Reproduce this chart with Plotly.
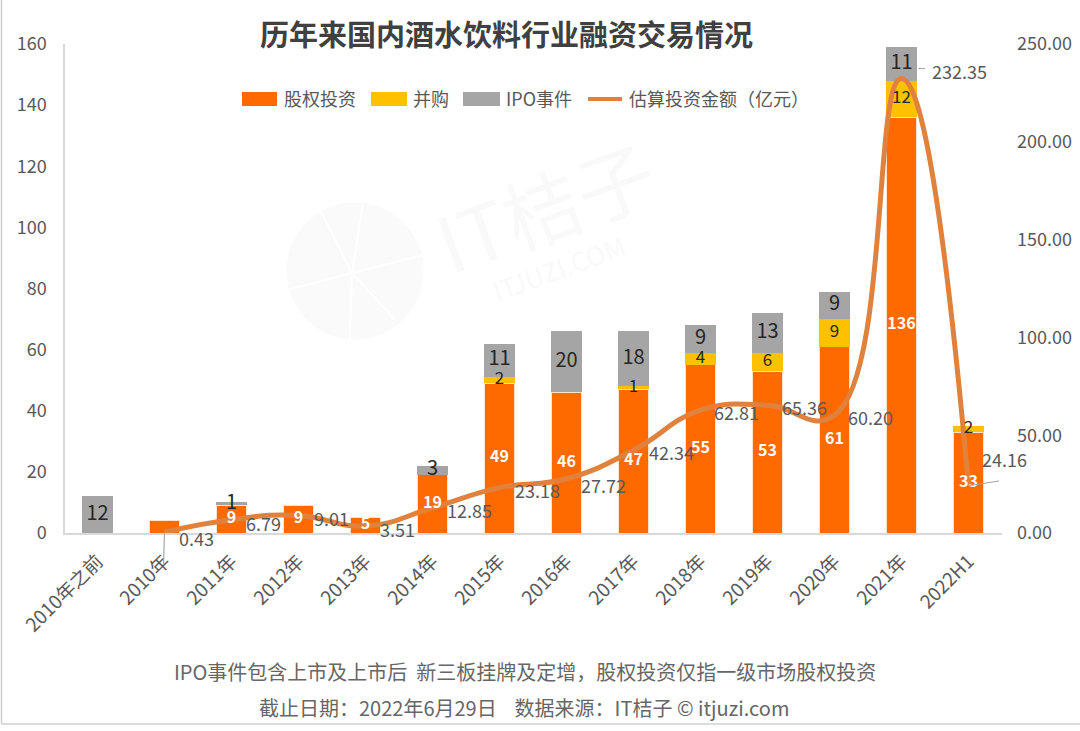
import plotly.graph_objects as go

categories = ['2010年之前', '2010年', '2011年', '2012年', '2013年', '2014年', '2015年',
              '2016年', '2017年', '2018年', '2019年', '2020年', '2021年', '2022H1']
equity = [0, 4, 9, 9, 5, 19, 49, 46, 47, 55, 53, 61, 136, 33]
mna = [0, 0, 0, 0, 0, 0, 2, 0, 1, 4, 6, 9, 12, 2]
ipo = [12, 0, 1, 0, 0, 3, 11, 20, 18, 9, 13, 9, 11, 0]
amount_years = categories[1:]
amount = [0.43, 6.79, 9.01, 3.51, 12.85, 23.18, 27.72, 42.34, 62.81, 65.36, 60.20, 232.35, 24.16]

FONT = 'Noto Sans CJK SC'
ORANGE = '#FF6A00'
YELLOW = '#FFC000'
GREY = '#A5A5A5'
LINE = '#E0823D'

# plot area in pixels, everything outside it is placed relative to this
L, R, T, B = 65, 1002, 44, 533


def px(x):
    return (x - L) / (R - L)


def py(y):
    return (B - y) / (B - T)


def labels(values, skip=()):
    return [str(v) if v and c not in skip else '' for c, v in zip(categories, values)]


fig = go.Figure()

fig.add_trace(go.Bar(x=categories, y=equity, name='股权投资', width=0.44, marker_color=ORANGE,
                     marker_line=dict(color='#FFE3C8', width=1)))
fig.add_trace(go.Bar(x=categories, y=mna, name='并购', width=0.46, marker_color=YELLOW,
                     marker_line_width=0))
fig.add_trace(go.Bar(x=categories, y=ipo, name='IPO事件', width=0.47, marker_color=GREY,
                     marker_line_width=0))

fig.add_trace(go.Scatter(x=amount_years, y=amount, yaxis='y2', mode='lines', name='估算投资金额（亿元）',
                         line=dict(color=LINE, width=5, shape='spline', smoothing=1.3)))

# bar value labels sit above the line, so they go on a third overlaid axis
equity_mid = [v / 2 for v in equity]
mna_mid = [e + m / 2 for e, m in zip(equity, mna)]
ipo_mid = [e + m + i / 2 for e, m, i in zip(equity, mna, ipo)]
for mid, text, font in [
    (equity_mid, labels(equity, skip=['2010年']), dict(family=FONT, size=16, color='white', weight='bold')),
    (mna_mid, labels(mna), dict(family=FONT, size=17, color='#262626')),
    (ipo_mid, labels(ipo), dict(family=FONT, size=20, color='#262626')),
]:
    fig.add_trace(go.Scatter(x=categories, y=mid, yaxis='y3', mode='text', text=text,
                             textposition='middle center', textfont=font, hoverinfo='skip'))

# label offsets from each line point
label_shift = [(32, -6), (32, -3), (33, -3), (32, -3), (37, -2), (38, -2), (37, -6),
               (38, -2), (36, -2), (37, -2), (36, -2), (58, 8), (36, 27)]
for year, value, (dx, dy) in zip(amount_years, amount, label_shift):
    fig.add_annotation(x=year, y=value, xref='x', yref='y2', text=f'{value:.2f}', showarrow=False,
                       xshift=dx, yshift=dy, font=dict(family=FONT, size=18, color='#595959'))

# leader lines
for year, value, dx, dy, ax, ay in [('2010年', 0.43, 0, 0, -1, 34),
                                    ('2021年', 232.35, 17, 10, 8, 0),
                                    ('2022H1', 24.16, 0, 0, 32, -5)]:
    fig.add_annotation(x=year, y=value, xref='x', yref='y2', text='', showarrow=True, arrowhead=0,
                       arrowwidth=1.2, arrowcolor='#A6A6A6', xshift=dx, yshift=dy, ax=ax, ay=ay)


def page_text(x, y, text, size, color, angle=0):
    fig.add_annotation(x=px(x), y=py(y), xref='paper', yref='paper', text=text, textangle=angle,
                       showarrow=False, yanchor='middle', xanchor='center',
                       font=dict(family=FONT, size=size, color=color))


page_text(506, 33, '<b>历年来国内酒水饮料行业融资交易情况</b>', 29, '#404040')
page_text(525, 671, 'IPO事件包含上市及上市后  新三板挂牌及定增，股权投资仅指一级市场股权投资', 20, '#666666')
page_text(524, 707, '截止日期：2022年6月29日    数据来源：IT桔子 © itjuzi.com', 20, '#666666')

# legend drawn by hand, the built-in one cannot make swatches this wide
for x0, x1, text_x, text, color, height in [(242, 277, 282, '股权投资', ORANGE, 14),
                                            (371, 407, 411, '并购', YELLOW, 14),
                                            (463, 500, 504, 'IPO事件', GREY, 14),
                                            (588, 622, 627, '估算投资金额（亿元）', LINE, 4)]:
    fig.add_shape(type='rect', xref='paper', yref='paper', x0=px(x0), x1=px(x1),
                  y0=py(99 + height / 2), y1=py(99 - height / 2), fillcolor=color, line_width=0)
    fig.add_annotation(x=px(text_x), y=py(98), xref='paper', yref='paper', text=text, showarrow=False,
                       xanchor='left', yanchor='middle',
                       font=dict(family=FONT, size=18, color='#595959'))

# watermark
page_text(545, 205, 'IT桔子', 78, '#F9F9F9', angle=-20)
page_text(558, 267, 'ITJUZI.COM', 26, '#F9F9F9', angle=-20)
fig.add_shape(type='circle', xref='paper', yref='paper', x0=px(287), x1=px(423), y0=py(339), y1=py(203),
              fillcolor='#FAFAFA', line=dict(color='#FAFAFA', width=1), layer='below')
for x1, y1 in [(363, 203), (287, 290), (423, 255), (350, 339), (395, 320), (320, 210)]:
    fig.add_shape(type='line', xref='paper', yref='paper', x0=px(352), y0=py(273), x1=px(x1), y1=py(y1),
                  line=dict(color='white', width=2), layer='below')

# image frame
fig.add_shape(type='line', xref='paper', yref='paper', x0=px(1.5), x1=px(1.5), y0=py(0), y1=py(724),
              line=dict(color='#CFCFCF', width=1.5))
fig.add_shape(type='line', xref='paper', yref='paper', x0=px(1.5), x1=px(1080), y0=py(724), y1=py(724),
              line=dict(color='#CFCFCF', width=1.5))

fig.update_layout(
    width=1080,
    height=731,
    margin=dict(l=L, r=1080 - R, t=T, b=731 - B, autoexpand=False),
    paper_bgcolor='white',
    plot_bgcolor='rgba(0,0,0,0)',
    barmode='stack',
    showlegend=False,
    font=dict(family=FONT, color='#595959', size=18),
    xaxis=dict(range=[-0.485, 13.5], tickangle=-45, showgrid=False, showline=True, linecolor='#D9D9D9',
               linewidth=1.5, ticks='', ticklabelstandoff=8,
               tickfont=dict(family=FONT, size=19, color='#595959')),
    yaxis=dict(range=[0, 160], dtick=20, showgrid=False, showline=True, linecolor='#D9D9D9',
               linewidth=1.5, zeroline=False, ticks='', ticklabelstandoff=13,
               tickfont=dict(family=FONT, size=18, color='#595959')),
    yaxis2=dict(range=[0, 250], dtick=50, overlaying='y', side='right', tickformat='.2f',
                showgrid=False, showline=False, zeroline=False, ticks='', ticklabelstandoff=14,
                tickfont=dict(family=FONT, size=18, color='#595959')),
    yaxis3=dict(range=[0, 160], overlaying='y', visible=False),
)

# drop the browser's default body margin so the picture starts at the corner
fig.write_html("out.html", post_script="document.body.style.margin='0';",
               config=dict(displayModeBar=False))
